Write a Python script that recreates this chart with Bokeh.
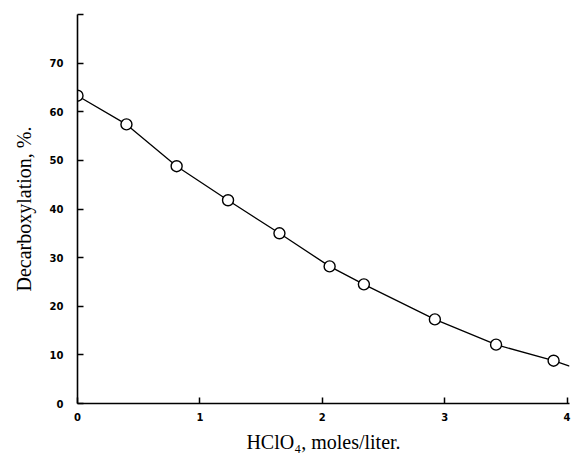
from bokeh.plotting import figure
from bokeh.models import FixedTicker, Range1d
from bokeh.embed import file_html
from bokeh.resources import INLINE

# HClO4 concentration (moles/liter) and decarboxylation (%)
hclo4 = [0.0, 0.40, 0.81, 1.23, 1.65, 2.06, 2.34, 2.92, 3.42, 3.89]
decarb = [63.3, 57.4, 48.8, 41.8, 35.0, 28.2, 24.5, 17.3, 12.1, 8.8]
# curve drawn through the points, extended slightly past the last one
curve_x = hclo4 + [4.02]
curve_y = decarb + [7.7]

x_ticks = [0, 1, 2, 3, 4]
y_ticks = [0, 10, 20, 30, 40, 50, 60, 70, 80]
y_tick_labels = {0: "0", 10: "10", 20: "20", 30: "30", 40: "40", 50: "50",
                 60: "60", 70: "70", 80: ""}

p = figure(width=573, height=456, output_backend="svg", toolbar_location=None,
           x_range=Range1d(0, 4.02), y_range=Range1d(0, 80),
           min_border_left=77, min_border_right=4, min_border_top=14,
           min_border_bottom=53)
p.outline_line_color = None
p.grid.visible = False
p.background_fill_color = "white"
p.border_fill_color = "white"

p.line(curve_x, curve_y, line_color="black", line_width=1.3)
p.scatter(hclo4, decarb, size=11, marker="circle", fill_color="white",
          line_color="black", line_width=1.4)

for ax in (p.xaxis[0], p.yaxis[0]):
    ax.axis_line_color = "black"
    ax.axis_line_width = 1.6
    ax.major_tick_line_color = "black"
    ax.major_tick_line_width = 1.5
    ax.major_tick_in = 6
    ax.major_tick_out = 0
    ax.minor_tick_line_color = None
    ax.major_label_text_font = "DejaVu Sans"
    ax.major_label_text_font_size = "10px"
    ax.major_label_text_font_style = "bold"
    ax.major_label_text_color = "black"
    ax.axis_label_text_font = "Liberation Serif"
    ax.axis_label_text_font_size = "20px"
    ax.axis_label_text_font_style = "normal"
    ax.axis_label_text_color = "black"

p.xaxis[0].ticker = FixedTicker(ticks=x_ticks)
p.yaxis[0].ticker = FixedTicker(ticks=y_ticks)
p.yaxis[0].major_label_overrides = y_tick_labels
p.xaxis[0].major_label_standoff = 9
p.yaxis[0].major_label_standoff = 14
p.xaxis[0].axis_label = "HClO\u2084, moles/liter."
p.yaxis[0].axis_label = "Decarboxylation, %."
p.xaxis[0].axis_label_standoff = 7
p.yaxis[0].axis_label_standoff = 12

open("out.html", "w").write(file_html(p, INLINE))
